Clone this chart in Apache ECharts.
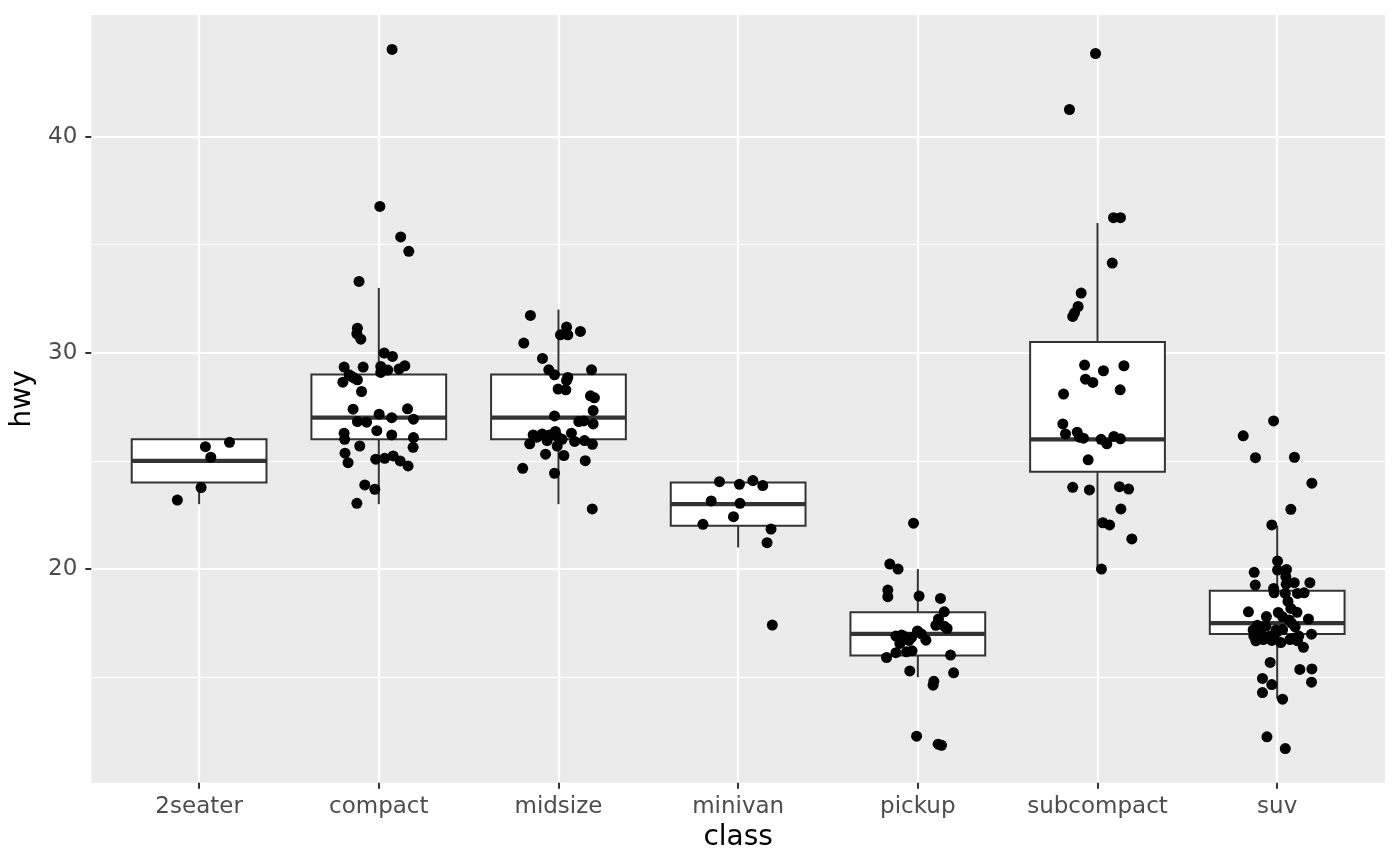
<!DOCTYPE html>
<html>
<head>
<meta charset="utf-8">
<title>hwy by class</title>
<script src="https://cdn.jsdelivr.net/npm/echarts@6.0.0/dist/echarts.min.js"></script>
<style>
  html, body { margin: 0; padding: 0; background: #fff; }
  #chart { width: 1400px; height: 866px; }
</style>
</head>
<body>
<div id="chart"></div>
<script>
var classes = ['2seater', 'compact', 'midsize', 'minivan', 'pickup', 'subcompact', 'suv'];

// box stats per class: [lower whisker, Q1, median, Q3, upper whisker]
var boxStats = [
  [23, 24, 25, 26, 26],
  [23, 26, 27, 29, 33],
  [23, 26, 27, 29, 32],
  [21, 22, 23, 24, 24],
  [15, 16, 17, 18, 20],
  [20, 24.5, 26, 30.5, 36],
  [14, 17, 17.5, 19, 22]
];

// jittered points per class: [x offset from class centre, hwy]
var pts2seater = [
  [0.169, 25.86], [0.035, 25.66], [0.065, 25.17], [0.011, 23.77], [-0.121, 23.19]
];
var ptsCompact = [
  [0.074, 44.03], [0.006, 36.77], [0.122, 35.36], [0.167, 34.69], [-0.11, 33.30],
  [-0.119, 31.14], [-0.122, 30.88], [-0.10, 30.63], [0.03, 29.99], [0.076, 29.83],
  [-0.193, 29.34], [-0.087, 29.34], [0.011, 29.37], [0.011, 29.09], [0.113, 29.25],
  [0.145, 29.40], [-0.165, 28.98], [-0.137, 28.83], [-0.119, 28.75], [-0.2, 28.64],
  [-0.096, 28.21], [-0.143, 27.39], [0.16, 27.41], [0.002, 27.16], [0.072, 27.00],
  [0.193, 26.93], [-0.119, 26.82], [-0.068, 26.79], [-0.193, 26.28], [-0.19, 26.00],
  [-0.011, 26.40], [0.072, 26.20], [0.193, 26.08], [0.191, 25.63], [-0.106, 25.69],
  [-0.188, 25.36], [-0.171, 24.92], [-0.017, 25.08], [0.033, 25.12], [0.08, 25.23],
  [0.119, 25.00], [0.163, 24.77], [-0.078, 23.89], [-0.022, 23.69], [-0.122, 23.04],
  [0.05, 29.2], [-0.15, 28.9]
];
var ptsMidsize = [
  [-0.156, 31.73], [0.045, 31.19], [0.011, 30.83], [0.052, 30.83], [0.122, 30.99],
  [-0.193, 30.45], [-0.089, 29.74], [-0.054, 29.21], [-0.022, 28.98], [0.184, 29.21],
  [0.052, 28.86], [0.045, 28.72], [-0.002, 28.32], [0.041, 28.29], [0.178, 28.01],
  [0.2, 27.92], [0.193, 27.33], [-0.022, 27.08], [0.113, 26.82], [0.141, 26.85],
  [0.193, 26.71], [-0.141, 26.20], [-0.091, 26.24], [-0.017, 26.36], [-0.007, 26.13],
  [0.072, 26.28], [-0.16, 25.79], [-0.063, 25.94], [-0.007, 25.69], [0.145, 25.94],
  [0.189, 25.77], [-0.072, 25.31], [0.03, 25.25], [0.149, 25.01], [-0.199, 24.66],
  [-0.022, 24.43], [0.188, 22.78], [-0.05, 26.2], [0.02, 26.0], [-0.12, 26.1],
  [0.09, 25.9]
];
var ptsMinivan = [
  [-0.104, 24.04], [0.007, 23.92], [0.082, 24.09], [0.137, 23.86], [-0.15, 23.15],
  [0.01, 23.04], [-0.026, 22.42], [-0.196, 22.07], [0.183, 21.85], [0.161, 21.22],
  [0.19, 17.41]
];
var ptsPickup = [
  [-0.024, 22.12], [-0.156, 20.23], [-0.11, 20.00], [-0.167, 19.03], [-0.167, 18.72],
  [0.007, 18.75], [0.126, 18.64], [0.147, 18.02], [0.115, 17.69], [0.147, 17.36],
  [0.163, 17.25], [-0.002, 17.14], [-0.122, 16.90], [-0.072, 16.87], [-0.035, 16.84],
  [0.045, 16.71], [-0.1, 16.56], [-0.063, 16.17], [-0.032, 16.22], [-0.122, 16.13],
  [-0.174, 15.91], [0.182, 16.02], [-0.045, 15.29], [0.199, 15.20], [0.089, 14.81],
  [0.085, 14.63], [-0.007, 12.27], [0.113, 11.90], [0.132, 11.85], [-0.09, 16.95],
  [0.02, 17.0], [-0.05, 16.7], [0.1, 17.4]
];
var ptsSubcompact = [
  [-0.011, 43.84], [-0.156, 41.25], [0.089, 36.25], [0.128, 36.25], [0.082, 34.15],
  [-0.091, 32.76], [-0.108, 32.14], [-0.138, 31.68], [-0.128, 31.85], [-0.072, 29.43],
  [0.033, 29.17], [0.147, 29.40], [-0.067, 28.78], [-0.026, 28.63], [0.126, 28.29],
  [-0.189, 28.09], [-0.193, 26.71], [-0.178, 26.25], [-0.113, 26.33], [-0.1, 26.10],
  [-0.078, 26.05], [0.02, 26.00], [0.052, 25.79], [0.091, 26.13], [0.128, 26.02],
  [-0.052, 25.05], [-0.138, 23.78], [-0.045, 23.66], [0.122, 23.81], [0.173, 23.70],
  [0.13, 22.78], [0.03, 22.14], [0.067, 22.04], [0.191, 21.39], [0.022, 20.00]
];
var ptsSuv = [
  [-0.02, 26.85], [-0.189, 26.16], [-0.121, 25.15], [0.096, 25.17], [0.193, 23.97],
  [0.076, 22.76], [-0.03, 22.04], [0.002, 20.37], [0.002, 19.95], [0.052, 19.98],
  [-0.128, 19.85], [-0.122, 19.26], [0.048, 19.65], [0.095, 19.37], [0.182, 19.37],
  [-0.017, 18.90], [0.045, 18.87], [0.113, 18.87], [0.076, 18.18], [-0.16, 18.02],
  [0.006, 17.99], [0.03, 17.79], [0.174, 17.69], [0.067, 17.64], [0.1, 17.33],
  [-0.063, 17.36], [-0.134, 17.18], [-0.007, 17.18], [-0.119, 16.68], [-0.078, 16.74],
  [-0.02, 16.84], [0.071, 16.74], [0.113, 16.68], [0.191, 16.99], [0.146, 16.38],
  [-0.039, 15.68], [0.126, 15.36], [0.193, 15.38], [-0.082, 14.94], [-0.03, 14.66],
  [0.191, 14.77], [-0.082, 14.29], [0.03, 13.98], [-0.057, 12.24], [0.045, 11.70],
  [-0.09, 17.0], [0.03, 17.2], [-0.04, 16.9], [0.08, 17.5], [0.11, 18.0],
  [-0.02, 19.1], [0.06, 18.5], [0.12, 16.9], [-0.13, 16.9], [0.02, 16.6],
  [0.0, 17.1], [-0.06, 17.8], [0.09, 16.8], [0.15, 18.9], [-0.11, 17.4],
  [0.05, 19.3], [-0.03, 16.7]
];

var classPoints = [pts2seater, ptsCompact, ptsMidsize, ptsMinivan, ptsPickup, ptsSubcompact, ptsSuv];

var yMajor = [20, 30, 40];
var yMinor = [15, 25, 35];
var xTicks = [0, 1, 2, 3, 4, 5, 6];

var boxData = boxStats.map(function (s, i) {
  return [i].concat(s);
});

var jitterData = [];
classPoints.forEach(function (list, i) {
  list.forEach(function (p) {
    jitterData.push([i + p[0], p[1]]);
  });
});

function renderBox(params, api) {
  var x = api.value(0);
  var lo = api.coord([x, api.value(1)]);
  var q1 = api.coord([x, api.value(2)]);
  var med = api.coord([x, api.value(3)]);
  var q3 = api.coord([x, api.value(4)]);
  var hi = api.coord([x, api.value(5)]);
  var halfW = api.size([0.75, 0])[0] / 2;
  var stroke = { stroke: '#333333', lineWidth: 2 };
  return {
    type: 'group',
    children: [
      { type: 'line', shape: { x1: hi[0], y1: hi[1], x2: q3[0], y2: q3[1] }, style: stroke },
      { type: 'line', shape: { x1: q1[0], y1: q1[1], x2: lo[0], y2: lo[1] }, style: stroke },
      {
        type: 'rect',
        shape: { x: q3[0] - halfW, y: q3[1], width: halfW * 2, height: q1[1] - q3[1] },
        style: { fill: '#ffffff', stroke: '#333333', lineWidth: 2 }
      },
      {
        type: 'line',
        shape: { x1: med[0] - halfW, y1: med[1], x2: med[0] + halfW, y2: med[1] },
        style: { stroke: '#333333', lineWidth: 4.2 }
      }
    ]
  };
}

var chart = echarts.init(document.getElementById('chart'));

var option = {
  animation: false,
  backgroundColor: '#ffffff',
  textStyle: { fontFamily: 'DejaVu Sans' },
  grid: {
    left: 91.3,
    right: 15,
    top: 15,
    bottom: 83.3,
    show: true,
    backgroundColor: '#EBEBEB',
    borderWidth: 0,
    containLabel: false
  },
  xAxis: {
    type: 'value',
    min: -0.6,
    max: 6.6,
    name: 'class',
    nameLocation: 'middle',
    nameGap: 40,
    nameTextStyle: { color: '#000000', fontSize: 28, fontFamily: 'DejaVu Sans' },
    axisLine: { show: false, onZero: false },
    axisTick: {
      show: true,
      customValues: xTicks,
      length: 6,
      lineStyle: { color: '#333333', width: 2 }
    },
    axisLabel: {
      customValues: xTicks,
      margin: 13,
      color: '#4D4D4D',
      fontSize: 23,
      fontFamily: 'DejaVu Sans',
      formatter: function (v) { return classes[Math.round(v)]; }
    },
    splitLine: { show: true, lineStyle: { color: '#ffffff', width: 2.2 } }
  },
  yAxis: [
    {
      type: 'value',
      min: 10.12,
      max: 45.62,
      name: 'hwy',
      nameLocation: 'middle',
      nameGap: 39,
      nameRotate: 90,
      nameTextStyle: { color: '#000000', fontSize: 28, fontFamily: 'DejaVu Sans' },
      axisLine: { show: false, onZero: false },
      axisTick: {
        show: true,
        customValues: yMajor,
        length: 6,
        lineStyle: { color: '#333333', width: 2 }
      },
      axisLabel: {
        customValues: yMajor,
        margin: 14,
        color: '#4D4D4D',
        fontSize: 23,
        fontFamily: 'DejaVu Sans'
      },
      splitLine: { show: true, lineStyle: { color: '#ffffff', width: 2.2 } }
    },
    {
      type: 'value',
      min: 10.12,
      max: 45.62,
      position: 'left',
      axisLine: { show: false, onZero: false },
      axisTick: { show: false, customValues: yMinor },
      axisLabel: { show: false, customValues: yMinor },
      splitLine: { show: true, lineStyle: { color: '#ffffff', width: 1.1 } }
    }
  ],
  series: [
    {
      type: 'custom',
      name: 'box',
      renderItem: renderBox,
      data: boxData,
      encode: { x: 0, y: [1, 2, 3, 4, 5] },
      z: 2,
      silent: true
    },
    {
      type: 'scatter',
      name: 'hwy',
      data: jitterData,
      symbol: 'circle',
      symbolSize: 11,
      itemStyle: { color: '#000000', opacity: 1 },
      z: 3,
      silent: true
    }
  ]
};

chart.setOption(option);
</script>
</body>
</html>
